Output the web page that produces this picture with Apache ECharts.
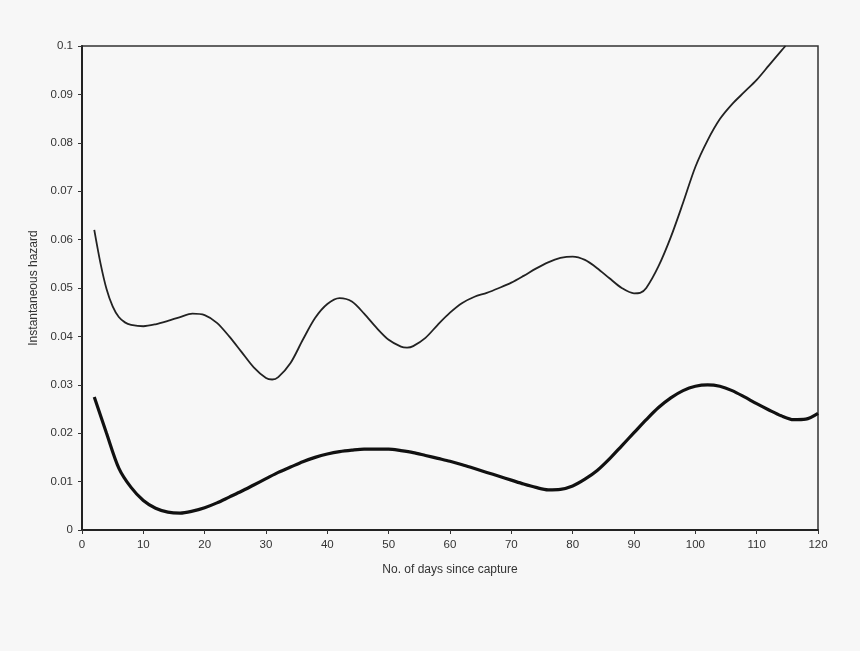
<!DOCTYPE html>
<html><head><meta charset="utf-8">
<script src="https://cdn.jsdelivr.net/npm/echarts@6/dist/echarts.min.js"></script>
<style>html,body{margin:0;padding:0;background:#f7f7f7;}#c{width:860px;height:651px;}</style>
</head><body><div id="c"></div>
<script>
const xTicks = [0,10,20,30,40,50,60,70,80,90,100,110,120];
const yTicks = [0,0.01,0.02,0.03,0.04,0.05,0.06,0.07,0.08,0.09,0.1];
const upperDays = [2,3,4,5,6,7,8,10,12,14,16,18,20,22,24,26,28,30,31,32,34,36,38,40,42,44,46,48,50,52,53,54,56,58,60,62,64,66,68,70,72,74,76,78,80,82,84,86,88,90,91,92,94,96,98,100,102,104,106,108,110,112,114,114.7];
const upperHazard = [0.0620,0.0552,0.0498,0.0462,0.0440,0.0429,0.0424,0.0421,0.0425,0.0432,0.0440,0.0447,0.0444,0.0428,0.0400,0.0368,0.0336,0.0314,0.0311,0.0316,0.0345,0.0393,0.0438,0.0467,0.0479,0.0472,0.0447,0.0418,0.0393,0.0379,0.0377,0.0380,0.0397,0.0424,0.0449,0.0469,0.0482,0.0490,0.0500,0.0511,0.0525,0.0540,0.0553,0.0562,0.0565,0.0558,0.0541,0.0520,0.0500,0.0489,0.0490,0.0500,0.0545,0.0605,0.0676,0.0750,0.0805,0.0849,0.0880,0.0905,0.0930,0.0960,0.0990,0.1];
const lowerDays = [2,4,6,8,10,12,14,16,18,20,22,24,26,28,30,32,34,36,38,40,42,44,46,48,50,52,54,56,58,60,62,64,66,68,70,72,74,76,78,80,82,84,86,88,90,92,94,96,98,100,102,104,106,108,110,112,114,116,118,120];
const lowerHazard = [0.0275,0.0200,0.0128,0.0088,0.0061,0.0045,0.0037,0.0035,0.0039,0.0046,0.0056,0.0068,0.0080,0.0093,0.0106,0.0119,0.0130,0.0141,0.0150,0.0157,0.0162,0.0165,0.0167,0.0167,0.0167,0.0164,0.0160,0.0154,0.0148,0.0142,0.0135,0.0127,0.0119,0.0111,0.0103,0.0095,0.0088,0.0083,0.0084,0.0091,0.0105,0.0123,0.0147,0.0174,0.0201,0.0228,0.0253,0.0273,0.0288,0.0297,0.0300,0.0297,0.0288,0.0275,0.0261,0.0248,0.0236,0.0228,0.0229,0.0241];
const font = 'Liberation Sans, Arial, sans-serif';
const chart = echarts.init(document.getElementById('c'));
chart.setOption({
  backgroundColor: '#f7f7f7',
  animation: false,
  grid: {left: 82, right: 42, top: 46, bottom: 121, show: true, borderColor: '#333', borderWidth: 1.5, backgroundColor: 'transparent'},
  xAxis: {
    type: 'value', min: xTicks[0], max: xTicks[xTicks.length-1], interval: 10,
    name: 'No. of days since capture', nameLocation: 'middle', nameGap: 34,
    nameTextStyle: {fontFamily: font, fontSize: 12, color: '#333'},
    axisLine: {show: true, lineStyle: {color: '#222', width: 2}},
    axisTick: {show: true, length: 4, lineStyle: {color: '#333'}},
    axisLabel: {fontFamily: font, fontSize: 11.5, color: '#333', margin: 9},
    splitLine: {show: false}
  },
  yAxis: {
    type: 'value', min: yTicks[0], max: yTicks[yTicks.length-1], interval: 0.01,
    name: 'Instantaneous hazard', nameLocation: 'middle', nameGap: 40,
    nameTextStyle: {fontFamily: font, fontSize: 12, color: '#333'},
    axisLine: {show: true, lineStyle: {color: '#222', width: 2}},
    axisTick: {show: true, length: 4, lineStyle: {color: '#333'}},
    axisLabel: {fontFamily: font, fontSize: 11.5, color: '#333', margin: 9,
      formatter: v => String(Math.round(v*100)/100)},
    splitLine: {show: false}
  },
  series: [
    {type: 'line', data: upperDays.map((d,i)=>[d, upperHazard[i]]), smooth: 0.3, showSymbol: false,
     lineStyle: {color: '#222', width: 1.8}},
    {type: 'line', data: lowerDays.map((d,i)=>[d, lowerHazard[i]]), smooth: 0.3, showSymbol: false,
     lineStyle: {color: '#111', width: 3.2}}
  ]
});
</script></body></html>
